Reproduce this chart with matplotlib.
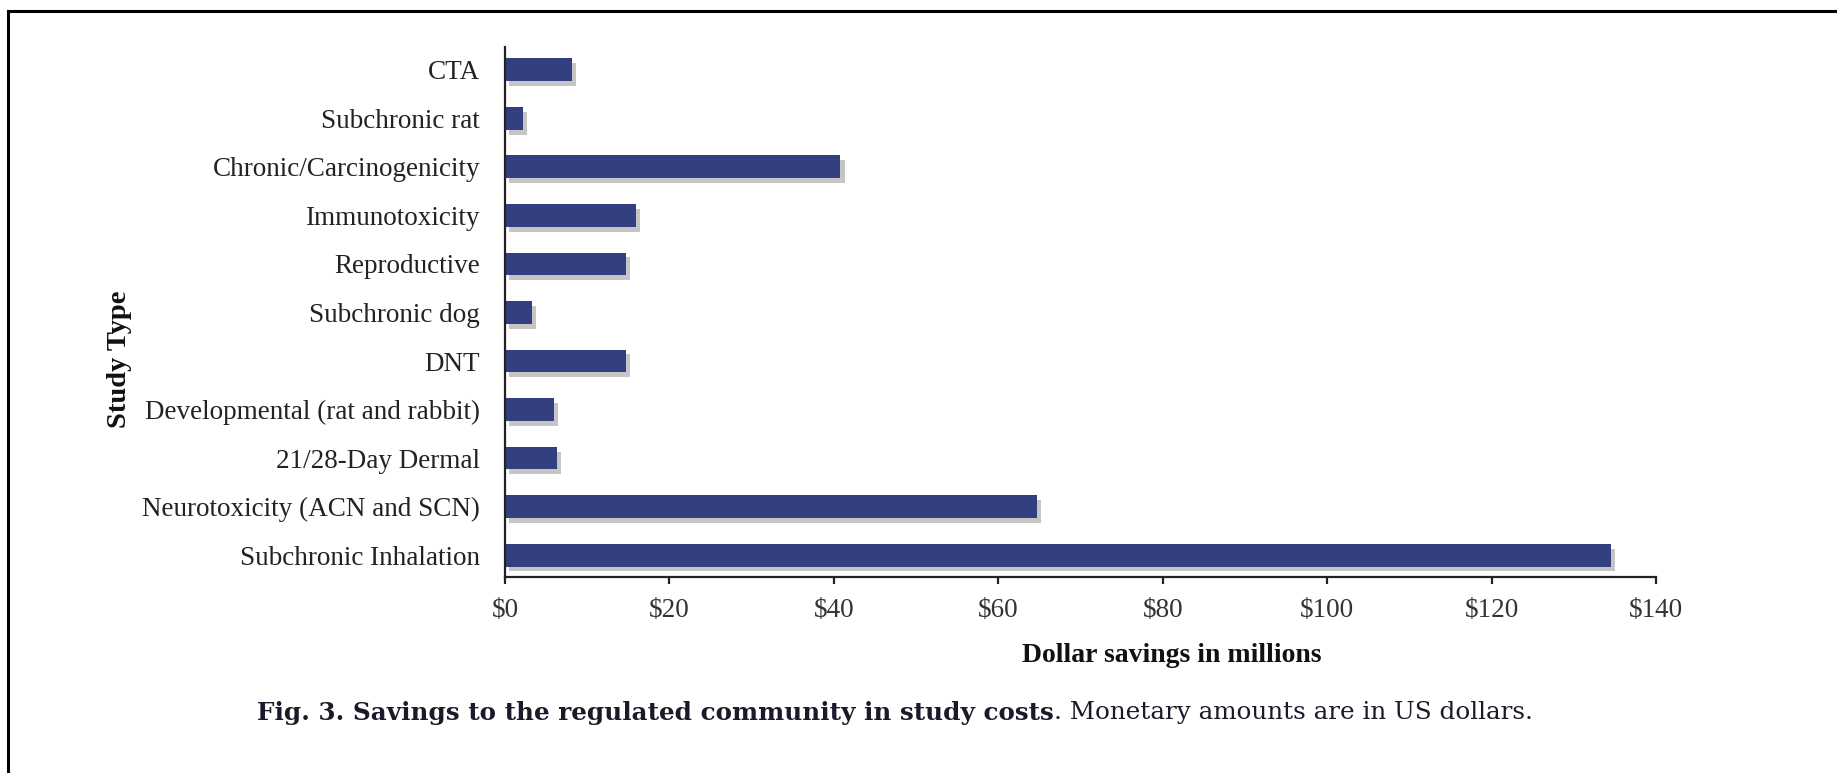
import numpy as np
import matplotlib.pyplot as plt
import matplotlib.patheffects as pe
from matplotlib.lines import Line2D

# data (US$ millions), listed top to bottom
studies = ['CTA', 'Subchronic rat', 'Chronic/Carcinogenicity', 'Immunotoxicity',
           'Reproductive', 'Subchronic dog', 'DNT', 'Developmental (rat and rabbit)',
           '21/28-Day Dermal', 'Neurotoxicity (ACN and SCN)', 'Subchronic Inhalation']
savings = [8.1, 2.2, 40.8, 15.9, 14.7, 3.3, 14.7, 6.0, 6.3, 64.7, 134.5]
xticks = [0, 20, 40, 60, 80, 100, 120, 140]
xticklabels = ['$' + str(v) for v in xticks]

W, H = 1837, 773
plt.rcParams['font.family'] = ['Liberation Serif', 'DejaVu Serif']
fig = plt.figure(figsize=(W / 100, H / 100), dpi=100)
ax = fig.add_axes([505 / W, 1 - 577 / H, (1656 - 505) / W, (577 - 47) / H])

ypos = np.arange(len(studies))[::-1]
bars = ax.barh(ypos, savings, height=0.47, color='#343f80')
for b in bars:
    b.set_path_effects([pe.SimplePatchShadow(offset=(3, -3.5), shadow_rgbFace='0.5', alpha=0.45),
                        pe.Normal()])

ax.set_xlim(0, 140)
ax.set_ylim(-0.45, 10.47)
for s in ['top', 'right']:
    ax.spines[s].set_visible(False)
for s in ['left', 'bottom']:
    ax.spines[s].set_color('#222222')
    ax.spines[s].set_linewidth(1.6)

ax.set_yticks(ypos, studies)
ax.set_xticks(xticks, xticklabels)
ax.tick_params(axis='y', length=0, pad=18, labelsize=19.5, labelcolor='#222222')
ax.tick_params(axis='x', length=5, width=1.6, direction='out', pad=10,
               labelsize=19.5, labelcolor='#333333', color='#222222')

fig.text(1172 / W, 1 - 655 / H, 'Dollar savings in millions', fontsize=20,
         fontweight='bold', ha='center', va='center', color='#111111')
fig.text(120 / W, 1 - 359 / H, 'Study Type', fontsize=20.5, fontweight='bold',
         rotation=90, ha='center', va='center', color='#111111')

# caption: bold lead-in followed by regular text
capfont = ['DejaVu Serif']
cap1 = fig.text(257 / W, 1 - 713 / H, 'Fig. 3. Savings to the regulated community in study costs',
                fontsize=17.7, fontweight='bold', va='center', color='#1a1a2a', family=capfont)
fig.canvas.draw()
bb = cap1.get_window_extent(fig.canvas.get_renderer())
fig.text(bb.x1 / W, 1 - 713 / H, '. Monetary amounts are in US dollars.',
         fontsize=17.7, va='center', color='#1a1a2a', family=capfont)

# page frame (left and top edges only)
fig.add_artist(Line2D([8 / W, 8 / W], [0, 1 - 11 / H], lw=2.2, color='black'))
fig.add_artist(Line2D([8 / W, 1], [1 - 11 / H, 1 - 11 / H], lw=2.2, color='black'))

fig.savefig('out.png', dpi=100)
